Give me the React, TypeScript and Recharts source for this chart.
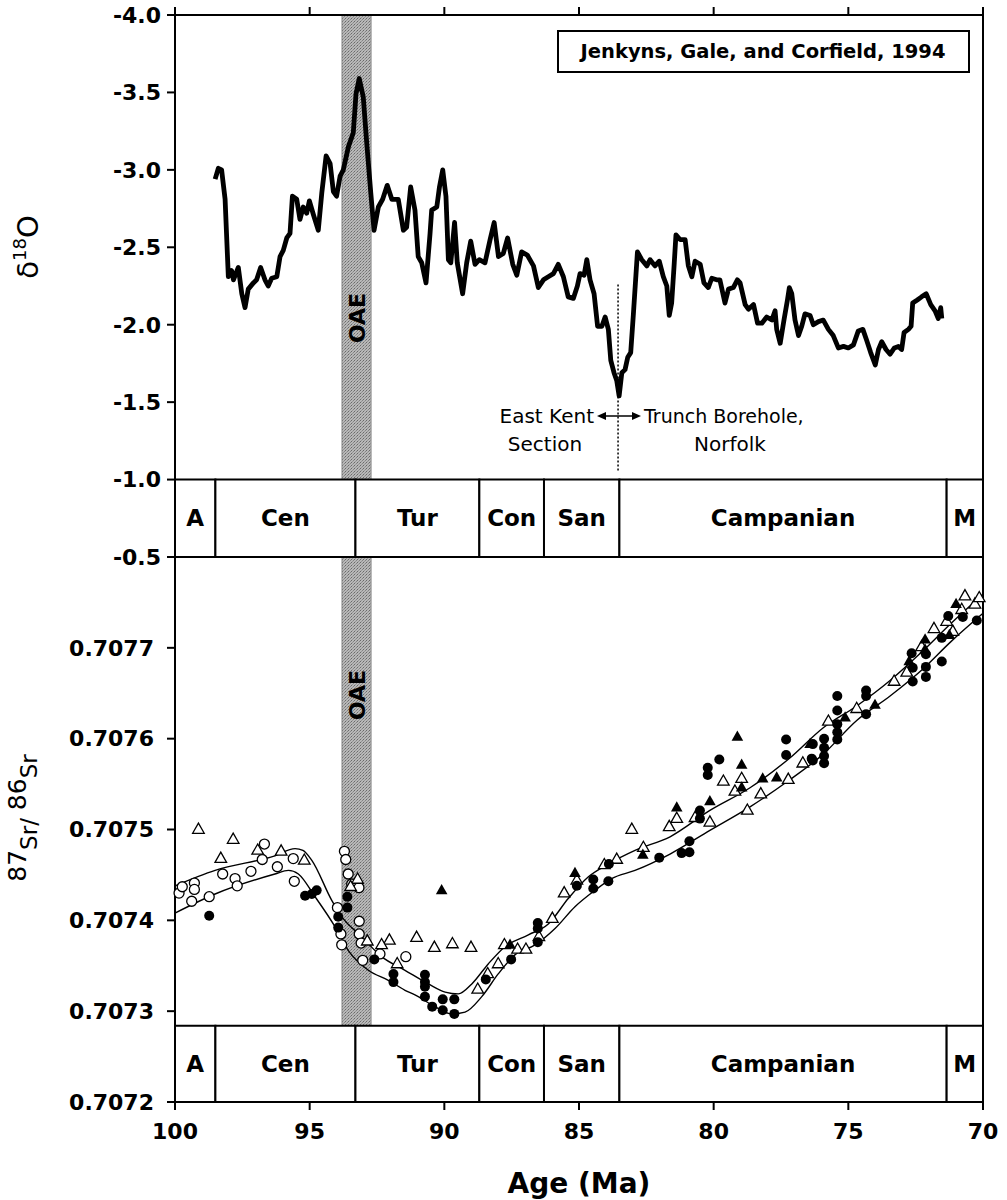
import React from "react";
import {
  ComposedChart,
  Line,
  Scatter,
  XAxis,
  YAxis,
  ReferenceArea,
  ReferenceLine,
} from "recharts";

const FONT = '"DejaVu Sans", "Liberation Sans", Arial, sans-serif';

// axes
const AGE_TICKS = [100, 95, 90, 85, 80, 75, 70];
const D18_TICKS = [-4, -3.5, -3, -2.5, -2, -1.5, -1, -0.5];
const SR_TICKS = [0.7072, 0.7073, 0.7074, 0.7075, 0.7076, 0.7077];

// stratigraphic stages: name, older bound, younger bound (Ma)
const STAGE_NAMES = ["A", "Cen", "Tur", "Con", "San", "Campanian", "M"];
const STAGE_OLD = [100, 98.5, 93.3, 88.7, 86.3, 83.5, 71.35];
const STAGE_YOUNG = [98.5, 93.3, 88.7, 86.3, 83.5, 71.35, 70];
const OAE_RANGE = [93.8, 92.72];
const STAGE_BAR_SR_TOP = 0.707284;

// δ18O record, [age Ma, ‰]
const D18O: [number, number][] = [
  [98.51, -2.94], [98.39, -3.01], [98.27, -3.0], [98.14, -2.81], [98.02, -2.31],
  [97.9, -2.35], [97.83, -2.29], [97.65, -2.37], [97.52, -2.2], [97.4, -2.11],
  [97.28, -2.23], [97.09, -2.27], [96.97, -2.29], [96.82, -2.37], [96.66, -2.29],
  [96.54, -2.25], [96.41, -2.3], [96.22, -2.31], [96.1, -2.44], [95.98, -2.48],
  [95.85, -2.56], [95.73, -2.59], [95.64, -2.83], [95.48, -2.81], [95.36, -2.68],
  [95.24, -2.76], [95.11, -2.72], [95.01, -2.8], [94.86, -2.71], [94.68, -2.61],
  [94.55, -2.85], [94.39, -3.09], [94.24, -3.04], [94.12, -2.86], [94.0, -2.83],
  [93.87, -2.96], [93.75, -3.0], [93.56, -3.15], [93.38, -3.24], [93.28, -3.49],
  [93.16, -3.59], [93.01, -3.47], [92.88, -3.17], [92.73, -2.85], [92.61, -2.61],
  [92.45, -2.76], [92.29, -2.81], [92.12, -2.9], [91.95, -2.81], [91.71, -2.81],
  [91.52, -2.61], [91.4, -2.63], [91.25, -2.89], [91.09, -2.74], [90.97, -2.44],
  [90.84, -2.4], [90.68, -2.27], [90.53, -2.59], [90.47, -2.74], [90.28, -2.76],
  [90.18, -2.89], [90.06, -3.0], [89.94, -2.83], [89.85, -2.42], [89.76, -2.4],
  [89.62, -2.66], [89.52, -2.4], [89.32, -2.2], [89.17, -2.4], [89.02, -2.54],
  [88.86, -2.39], [88.7, -2.42], [88.49, -2.4], [88.3, -2.55], [88.15, -2.66],
  [87.99, -2.44], [87.81, -2.46], [87.65, -2.56], [87.46, -2.39], [87.31, -2.32],
  [87.13, -2.47], [86.92, -2.45], [86.69, -2.38], [86.51, -2.24], [86.32, -2.29],
  [86.14, -2.31], [85.95, -2.33], [85.77, -2.39], [85.58, -2.31], [85.4, -2.18],
  [85.21, -2.17], [85.06, -2.25], [84.96, -2.33], [84.81, -2.32], [84.71, -2.42],
  [84.59, -2.29], [84.44, -2.2], [84.31, -1.99], [84.15, -1.99], [84.03, -2.05],
  [83.91, -1.97], [83.82, -1.77], [83.7, -1.69], [83.6, -1.64], [83.51, -1.54],
  [83.41, -1.69], [83.29, -1.71], [83.19, -1.79], [83.08, -1.82], [82.98, -2.07],
  [82.83, -2.47], [82.67, -2.42], [82.48, -2.38], [82.36, -2.42], [82.18, -2.38],
  [82.02, -2.41], [81.87, -2.31], [81.74, -2.25], [81.65, -2.06], [81.56, -2.14],
  [81.47, -2.38], [81.4, -2.58], [81.25, -2.55], [81.06, -2.55], [80.94, -2.38],
  [80.81, -2.31], [80.69, -2.41], [80.5, -2.39], [80.36, -2.27], [80.2, -2.24],
  [80.07, -2.3], [79.89, -2.29], [79.77, -2.29], [79.58, -2.14], [79.45, -2.23],
  [79.27, -2.24], [79.12, -2.29], [79.02, -2.27], [78.83, -2.13], [78.71, -2.1],
  [78.52, -2.13], [78.37, -2.01], [78.21, -2.01], [78.03, -2.05], [77.84, -2.03],
  [77.72, -2.09], [77.66, -1.97], [77.53, -1.88], [77.39, -2.03], [77.26, -2.16],
  [77.19, -2.24], [77.1, -2.2], [76.98, -2.03], [76.85, -1.93], [76.73, -1.99],
  [76.61, -2.07], [76.42, -2.06], [76.3, -2.0], [76.11, -2.02], [75.93, -2.03],
  [75.74, -1.97], [75.56, -1.93], [75.37, -1.85], [75.18, -1.86], [75.0, -1.85],
  [74.81, -1.87], [74.63, -1.96], [74.46, -1.97], [74.32, -1.9], [74.17, -1.82],
  [74.0, -1.74], [73.88, -1.84], [73.76, -1.89], [73.6, -1.84], [73.45, -1.81],
  [73.29, -1.85], [73.14, -1.86], [73.02, -1.84], [72.93, -1.95], [72.77, -1.97],
  [72.67, -1.99], [72.61, -2.14], [72.44, -2.16], [72.28, -2.18], [72.11, -2.2],
  [71.94, -2.13], [71.78, -2.09], [71.66, -2.04], [71.57, -2.11], [71.53, -2.04],
];

// 87Sr/86Sr samples, [age Ma, ratio]
const OPEN_CIRCLES: [number, number][] = [
  [99.85, 0.70743], [99.73, 0.707437], [99.28, 0.707441], [99.28, 0.707434],
  [99.38, 0.707421], [98.73, 0.707426], [98.23, 0.707451], [97.77, 0.707446],
  [97.69, 0.707438], [97.18, 0.707454], [96.76, 0.707467], [96.68, 0.707484],
  [96.2, 0.707459], [95.61, 0.707468], [95.57, 0.707443], [93.71, 0.707476],
  [93.66, 0.707467], [93.57, 0.707451], [93.44, 0.70744], [93.17, 0.707436],
  [93.97, 0.707414], [93.84, 0.707385], [93.81, 0.707373], [93.16, 0.707399],
  [93.16, 0.707385], [93.09, 0.707375], [93.03, 0.707356], [92.39, 0.707363],
  [91.43, 0.70736],
];

const FILLED_CIRCLES: [number, number][] = [
  [98.73, 0.707405], [95.17, 0.707427], [94.92, 0.707429], [94.74, 0.707433],
  [93.6, 0.707426], [93.6, 0.707414], [93.94, 0.707404], [93.94, 0.707392],
  [92.6, 0.707357], [91.89, 0.707341], [91.89, 0.707332], [90.72, 0.70734],
  [90.72, 0.707332], [90.72, 0.707327], [90.72, 0.707316], [90.45, 0.707305],
  [90.06, 0.707313], [90.06, 0.707301], [89.63, 0.707313], [89.63, 0.707297],
  [88.46, 0.707335], [87.52, 0.707357], [86.53, 0.707397], [86.53, 0.707391],
  [86.53, 0.707376], [85.08, 0.707438], [84.47, 0.707445], [84.47, 0.707435],
  [83.91, 0.707443], [83.89, 0.707462], [82.02, 0.707469], [81.19, 0.707474],
  [80.9, 0.707487], [80.9, 0.707475], [80.51, 0.707521], [80.51, 0.707512],
  [80.22, 0.707568], [80.22, 0.70756], [79.79, 0.707577], [77.31, 0.707599],
  [77.31, 0.707582], [76.36, 0.707578], [76.32, 0.707594], [76.32, 0.707576],
  [75.9, 0.7076], [75.9, 0.70759], [75.9, 0.707581], [75.9, 0.707573],
  [75.41, 0.707647], [75.41, 0.707631], [75.41, 0.707616], [75.41, 0.707607],
  [75.41, 0.707599], [74.34, 0.707653], [74.34, 0.707647], [74.34, 0.707627],
  [72.65, 0.707694], [72.61, 0.707678], [72.61, 0.707663], [72.12, 0.707693],
  [72.12, 0.707679], [72.12, 0.707668], [71.53, 0.707685], [71.53, 0.707711],
  [71.29, 0.707735], [70.75, 0.707734], [70.23, 0.70773],
];

const OPEN_TRIANGLES: [number, number][] = [
  [99.13, 0.707501], [97.84, 0.70749], [98.3, 0.707469], [96.93, 0.707478],
  [96.06, 0.707477], [95.2, 0.707467], [93.22, 0.707446], [93.48, 0.707438],
  [92.86, 0.707378], [92.04, 0.707379], [92.33, 0.707374], [91.75, 0.707353],
  [91.03, 0.707382], [90.37, 0.707371], [89.7, 0.707375], [89.01, 0.707371],
  [88.76, 0.707325], [88.39, 0.707342], [88.0, 0.707353], [87.77, 0.707374],
  [87.28, 0.707369], [86.97, 0.707369], [86.49, 0.707383], [85.99, 0.707403],
  [85.55, 0.707431], [85.08, 0.707445], [84.06, 0.707462], [83.6, 0.707468],
  [83.04, 0.707501], [82.61, 0.707481], [81.65, 0.707504], [81.37, 0.707513],
  [80.69, 0.707514], [80.14, 0.707509], [79.64, 0.707554], [78.96, 0.707557],
  [79.21, 0.707543], [78.25, 0.70754], [78.75, 0.707522], [77.23, 0.707556],
  [76.69, 0.707574], [75.74, 0.70762], [74.69, 0.707634], [73.3, 0.707664],
  [72.83, 0.707674], [72.28, 0.707702], [71.82, 0.707722], [71.35, 0.70773],
  [71.12, 0.707719], [70.79, 0.707743], [70.67, 0.707758], [70.3, 0.707749],
  [70.14, 0.707756],
];

const FILLED_TRIANGLES: [number, number][] = [
  [90.1, 0.707434], [87.56, 0.707374], [85.15, 0.707453], [82.63, 0.707473],
  [81.37, 0.707525], [80.14, 0.707532], [79.12, 0.707603], [78.96, 0.707572],
  [78.96, 0.707547], [78.18, 0.707557], [77.66, 0.707558], [76.42, 0.707595],
  [75.12, 0.707624], [74.01, 0.707638], [72.74, 0.707686], [72.15, 0.70771],
  [72.15, 0.707699], [71.25, 0.707715], [71.0, 0.707749],
];

// envelope curves
const UPPER_CURVE: [number, number][] = [
  [100, 0.707438], [98.51, 0.707455], [96.29, 0.707471], [95.54, 0.707479],
  [95.25, 0.707477], [94.92, 0.707466], [94.18, 0.707422], [93.81, 0.707404],
  [93.07, 0.707382], [92.33, 0.70736], [91.46, 0.707345], [90.59, 0.70733],
  [89.97, 0.707321], [89.48, 0.707319], [88.98, 0.70733], [88.37, 0.707352],
  [87.75, 0.707371], [86.88, 0.707384], [86.14, 0.707396], [85.4, 0.707424],
  [84.65, 0.707448], [83.91, 0.707462], [82.92, 0.707477], [81.62, 0.707492],
  [80.14, 0.707521], [78.65, 0.707546], [77.16, 0.707579], [75.93, 0.707612],
  [74.69, 0.707636], [73.45, 0.707664], [72.22, 0.707697], [71.22, 0.707726],
  [70, 0.707759],
];

const LOWER_CURVE: [number, number][] = [
  [100, 0.707408], [98.51, 0.707429], [96.29, 0.707451], [95.79, 0.707455],
  [95.42, 0.707451], [94.8, 0.707426], [94.06, 0.707393], [93.57, 0.707367],
  [92.82, 0.707345], [92.08, 0.707334], [91.46, 0.707323], [91.09, 0.707318],
  [90.35, 0.707305], [89.73, 0.707297], [89.23, 0.707299], [88.61, 0.707316],
  [88.0, 0.707341], [87.38, 0.707362], [86.63, 0.707373], [85.89, 0.707391],
  [85.15, 0.707415], [84.41, 0.707433], [83.79, 0.707446], [82.92, 0.707455],
  [81.62, 0.707473], [80.14, 0.707499], [78.65, 0.707525], [77.16, 0.707555],
  [75.93, 0.707583], [74.69, 0.70762], [73.45, 0.707647], [72.22, 0.707677],
  [71.22, 0.707706], [70, 0.707738],
];

const toRows = (pairs: [number, number][], key: string) =>
  pairs.map(([age, v]) => ({ age, [key]: v }));

const AX = { stroke: "#000", strokeWidth: 2 };
const TICK = { fill: "#000", fontSize: 22, fontWeight: 700, fontFamily: FONT };
const STAGE_LABEL = { fill: "#000", fontSize: 23, fontWeight: 700, fontFamily: FONT };

const OpenCircle = (p: any) => (
  <circle cx={p.cx} cy={p.cy} r={5} fill="#fff" stroke="#000" strokeWidth={1.3} />
);
const FilledCircle = (p: any) => <circle cx={p.cx} cy={p.cy} r={5} fill="#000" />;
const tri = (cx: number, cy: number) =>
  `${cx},${cy - 5.5} ${cx - 5.8},${cy + 4.7} ${cx + 5.8},${cy + 4.7}`;
const OpenTriangle = (p: any) => (
  <polygon points={tri(p.cx, p.cy)} fill="#fff" stroke="#000" strokeWidth={1.3} />
);
const FilledTriangle = (p: any) => <polygon points={tri(p.cx, p.cy)} fill="#000" />;

function OaePattern({ id }: { id: string }) {
  return (
    <defs>
      <pattern id={id} width="3" height="3" patternUnits="userSpaceOnUse">
        <rect width="3" height="3" fill="#b8b8b8" />
        <rect x="0" y="0" width="1" height="1" fill="#6a6a6a" />
        <rect x="2" y="1" width="1" height="1" fill="#858585" />
        <rect x="1" y="2" width="1" height="1" fill="#959595" />
      </pattern>
    </defs>
  );
}

function StableIsotopePanel() {
  return (
    <ComposedChart width={1007} height={572} margin={{ top: 7, right: 24, bottom: 15, left: 0 }}>
      <OaePattern id="oae-top" />
      <XAxis
        xAxisId="top"
        orientation="top"
        type="number"
        dataKey="age"
        domain={[70, 100]}
        reversed
        ticks={AGE_TICKS}
        height={8}
        tickSize={8}
        tickFormatter={() => ""}
        axisLine={AX}
        tickLine={AX}
      />
      <XAxis
        xAxisId="bot"
        orientation="bottom"
        type="number"
        dataKey="age"
        domain={[70, 100]}
        reversed
        ticks={AGE_TICKS}
        mirror
        tickSize={9}
        tickFormatter={() => ""}
        axisLine={AX}
        tickLine={AX}
      />
      <YAxis
        yAxisId="l"
        type="number"
        domain={[-4, -0.5]}
        reversed
        ticks={D18_TICKS}
        width={175}
        tickSize={8}
        tickMargin={6}
        tickFormatter={(v: number) => v.toFixed(1)}
        tick={TICK}
        axisLine={AX}
        tickLine={AX}
      />
      <YAxis
        yAxisId="r"
        orientation="right"
        type="number"
        domain={[-4, -0.5]}
        reversed
        ticks={D18_TICKS}
        mirror
        tickSize={7}
        tickFormatter={() => ""}
        axisLine={AX}
        tickLine={{ stroke: "#000", strokeWidth: 1.5 }}
      />
      <ReferenceArea
        xAxisId="top"
        yAxisId="l"
        x1={OAE_RANGE[0]}
        x2={OAE_RANGE[1]}
        y1={-4}
        y2={-1}
        fill="url(#oae-top)"
        fillOpacity={1}
        stroke="#888"
        strokeWidth={1}
      />
      {STAGE_NAMES.map((name, i) => (
        <ReferenceArea
          key={name}
          xAxisId="top"
          yAxisId="l"
          x1={STAGE_OLD[i]}
          x2={STAGE_YOUNG[i]}
          y1={-1}
          y2={-0.5}
          fill="#fff"
          fillOpacity={1}
          stroke="#000"
          strokeWidth={2}
          label={{ value: name, position: "center", ...STAGE_LABEL }}
        />
      ))}
      <ReferenceLine
        xAxisId="top"
        yAxisId="l"
        segment={[
          { x: 83.55, y: -2.26 },
          { x: 83.55, y: -1.05 },
        ]}
        stroke="#000"
        strokeWidth={1.5}
        strokeDasharray="2 2"
      />
      <Line
        xAxisId="top"
        yAxisId="l"
        data={toRows(D18O, "d18")}
        dataKey="d18"
        type="linear"
        stroke="#000"
        strokeWidth={4.8}
        strokeLinejoin="round"
        dot={false}
        isAnimationActive={false}
      />
    </ComposedChart>
  );
}

function StrontiumPanel() {
  return (
    <ComposedChart width={1007} height={650} margin={{ top: 7, right: 24, bottom: 38, left: 0 }}>
      <OaePattern id="oae-bot" />
      <XAxis
        xAxisId="x"
        orientation="bottom"
        type="number"
        dataKey="age"
        domain={[70, 100]}
        reversed
        ticks={AGE_TICKS}
        height={60}
        tickSize={8}
        tickMargin={13}
        tick={TICK}
        axisLine={AX}
        tickLine={AX}
        label={{
          value: "Age (Ma)",
          position: "bottom",
          offset: 11,
          fill: "#000",
          fontSize: 28,
          fontWeight: 700,
          fontFamily: FONT,
        }}
      />
      <YAxis
        yAxisId="l"
        type="number"
        dataKey="sr"
        domain={[0.7072, 0.7078]}
        ticks={SR_TICKS}
        width={175}
        tickSize={8}
        tickMargin={13}
        tickFormatter={(v: number) => v.toFixed(4)}
        tick={TICK}
        axisLine={AX}
        tickLine={AX}
        allowDataOverflow
      />
      <YAxis
        yAxisId="r"
        orientation="right"
        type="number"
        domain={[0.7072, 0.7078]}
        ticks={SR_TICKS}
        mirror
        tickSize={7}
        tickFormatter={() => ""}
        axisLine={AX}
        tickLine={{ stroke: "#000", strokeWidth: 1.5 }}
      />
      <ReferenceArea
        xAxisId="x"
        yAxisId="l"
        x1={OAE_RANGE[0]}
        x2={OAE_RANGE[1]}
        y1={STAGE_BAR_SR_TOP}
        y2={0.7078}
        fill="url(#oae-bot)"
        fillOpacity={1}
        stroke="#888"
        strokeWidth={1}
      />
      {STAGE_NAMES.map((name, i) => (
        <ReferenceArea
          key={name}
          xAxisId="x"
          yAxisId="l"
          x1={STAGE_OLD[i]}
          x2={STAGE_YOUNG[i]}
          y1={0.7072}
          y2={STAGE_BAR_SR_TOP}
          fill="#fff"
          fillOpacity={1}
          stroke="#000"
          strokeWidth={2}
          label={{ value: name, position: "center", ...STAGE_LABEL }}
        />
      ))}
      <Line
        xAxisId="x"
        yAxisId="l"
        data={toRows(UPPER_CURVE, "sr")}
        dataKey="sr"
        type="monotone"
        stroke="#000"
        strokeWidth={1.4}
        dot={false}
        isAnimationActive={false}
      />
      <Line
        xAxisId="x"
        yAxisId="l"
        data={toRows(LOWER_CURVE, "sr")}
        dataKey="sr"
        type="monotone"
        stroke="#000"
        strokeWidth={1.4}
        dot={false}
        isAnimationActive={false}
      />
      <Scatter
        xAxisId="x"
        yAxisId="l"
        data={toRows(OPEN_CIRCLES, "sr")}
        dataKey="sr"
        shape={OpenCircle}
        isAnimationActive={false}
      />
      <Scatter
        xAxisId="x"
        yAxisId="l"
        data={toRows(OPEN_TRIANGLES, "sr")}
        dataKey="sr"
        shape={OpenTriangle}
        isAnimationActive={false}
      />
      <Scatter
        xAxisId="x"
        yAxisId="l"
        data={toRows(FILLED_CIRCLES, "sr")}
        dataKey="sr"
        shape={FilledCircle}
        isAnimationActive={false}
      />
      <Scatter
        xAxisId="x"
        yAxisId="l"
        data={toRows(FILLED_TRIANGLES, "sr")}
        dataKey="sr"
        shape={FilledTriangle}
        isAnimationActive={false}
      />
    </ComposedChart>
  );
}

function Annotations() {
  return (
    <svg
      width={1007}
      height={1200}
      style={{ position: "absolute", left: 0, top: 0, pointerEvents: "none" }}
      fontFamily={FONT}
    >
      {/* axis titles */}
      <text transform="translate(38,247) rotate(-90)" textAnchor="middle" fontSize={29}>
        δ<tspan fontSize={18} dy={-12}>18</tspan>
        <tspan dy={12}>O</tspan>
      </text>
      <text transform="translate(26,818) rotate(-90)" textAnchor="middle" fontSize={25}>
        87<tspan dy={11} fontSize={23}>Sr/</tspan>
        <tspan dy={-11}> 86</tspan>
        <tspan dy={11} fontSize={23}>Sr</tspan>
      </text>

      {/* source box */}
      <rect x={558} y={31} width={411} height={41} fill="#fff" stroke="#000" strokeWidth={2} />
      <text x={763} y={58} textAnchor="middle" fontSize={19.5} fontWeight={700}>
        Jenkyns, Gale, and Corfield, 1994
      </text>

      {/* OAE labels */}
      <text transform="translate(365,318) rotate(-90)" textAnchor="middle" fontSize={22} fontWeight={700}>
        OAE
      </text>
      <text transform="translate(365,695) rotate(-90)" textAnchor="middle" fontSize={22} fontWeight={700}>
        OAE
      </text>

      {/* section change */}
      <text x={594} y={423} textAnchor="end" fontSize={20}>East Kent</text>
      <text x={545} y={451} textAnchor="middle" fontSize={20}>Section</text>
      <text x={644} y={423} textAnchor="start" fontSize={19}>Trunch Borehole,</text>
      <text x={730} y={451} textAnchor="middle" fontSize={20}>Norfolk</text>
      <line x1={604} y1={416} x2={634} y2={416} stroke="#000" strokeWidth={1.5} />
      <polygon points="597,416 606,412 606,420" fill="#000" />
      <polygon points="641,416 632,412 632,420" fill="#000" />
    </svg>
  );
}

export default function App() {
  return (
    <div
      style={{
        position: "absolute",
        left: 0,
        top: 0,
        width: 1007,
        height: 1200,
        background: "#fff",
        overflow: "hidden",
      }}
    >
      <div style={{ position: "absolute", left: 0, top: 550 }}>
        <StrontiumPanel />
      </div>
      <div style={{ position: "absolute", left: 0, top: 0 }}>
        <StableIsotopePanel />
      </div>
      <Annotations />
    </div>
  );
}
